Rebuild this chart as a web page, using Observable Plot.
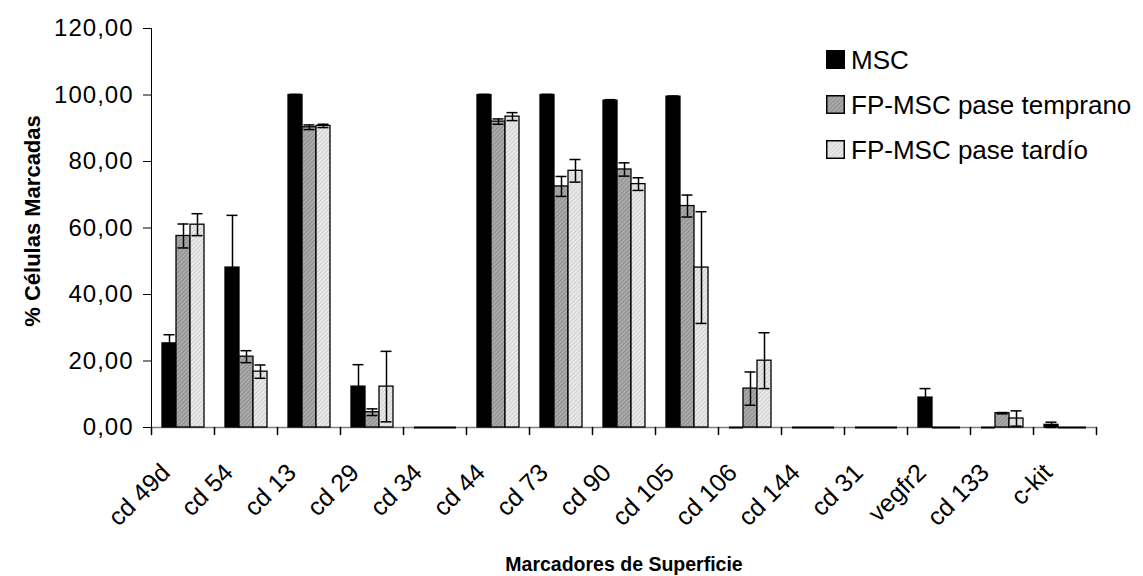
<!DOCTYPE html>
<html><head><meta charset="utf-8">
<script src="https://cdn.jsdelivr.net/npm/d3@7"></script>
<script src="https://cdn.jsdelivr.net/npm/@observablehq/plot@0.6"></script>
<style>
body{margin:0;background:#fff;font-family:Arial,"Liberation Sans",sans-serif;}
#wrap{position:relative;width:1143px;height:576px;}
.legend{position:absolute;left:826px;top:37px;font-size:26px;color:#000;line-height:1;}
.legend .row{display:flex;align-items:center;height:45px;white-space:nowrap;}
.legend svg{margin-right:6px;}
</style></head><body><div id="wrap"></div>
<script>
const categories = ["cd 49d","cd 54","cd 13","cd 29","cd 34","cd 44","cd 73","cd 90","cd 105","cd 106","cd 144","cd 31","vegfr2","cd 133","c-kit"];
const seriesNames = ["MSC","FP-MSC pase temprano","FP-MSC pase tardío"];
const mscValues   = [25.3, 48.1, 100.0, 12.3, 0, 100.0, 100.0, 98.3, 99.5, 0, 0, 0, 9.0, 0, 0.8];
const mscErrors   = [2.6, 15.7, 0.2, 6.6, 0, 0.2, 0.2, 0.3, 0.2, 0, 0, 0, 2.7, 0, 0.8];
const earlyValues = [57.6, 21.3, 90.3, 4.6, 0, 92.0, 72.5, 77.6, 66.6, 11.7, 0, 0, 0, 4.3, 0];
const earlyErrors = [3.6, 1.8, 0.7, 1.0, 0, 0.8, 3.0, 2.0, 3.3, 5.0, 0, 0, 0, 0.2, 0];
const lateValues  = [61.0, 16.8, 90.7, 12.3, 0, 93.5, 77.2, 73.2, 48.1, 20.1, 0, 0, 0, 2.7, 0];
const lateErrors  = [3.3, 2.0, 0.5, 10.6, 0, 1.2, 3.4, 1.9, 16.8, 8.4, 0, 0, 0, 2.3, 0];
const yTicks = [0, 20, 40, 60, 80, 100, 120];
const fills = ["#000", "url(#pg)", "url(#pl)"];

const vals = [mscValues, earlyValues, lateValues];
const errs = [mscErrors, earlyErrors, lateErrors];
const rows = [];
seriesNames.forEach((s, i) => categories.forEach((c, j) => rows.push({category: c, series: s, value: vals[i][j], err: errs[i][j]})));
const nonzero = rows.filter(d => d.value > 0);
const zero = rows.filter(d => d.value === 0);
const withErr = rows.filter(d => d.err > 0);

const tickShape = {draw(context, l) { context.moveTo(0, 0); context.lineTo(0, l); }};
const fmt = d => d.toFixed(2).replace(".", ",");

const chart = Plot.plot({
  width: 1143, height: 576,
  marginLeft: 147, marginRight: 43, marginTop: 28, marginBottom: 149,
  style: {fontFamily: "Arial, 'Liberation Sans', sans-serif", background: "#fff", color: "#000"},
  fx: {domain: categories, padding: 0, label: null, axis: null},
  x: {domain: seriesNames, paddingInner: 0, paddingOuter: 0.75, axis: null},
  y: {domain: [0, 120], axis: null},
  color: {domain: seriesNames, range: fills},
  marks: [
    Plot.ruleY([0], {stroke: "#808080", strokeWidth: 1.5}),
    Plot.barY(nonzero, {fx: "category", x: "series", y: "value", fill: "series", stroke: "#000", strokeWidth: 1.3}),
    Plot.tickY(zero, {fx: "category", x: "series", y: "value", stroke: "#000", strokeWidth: 2}),
    Plot.ruleX(withErr, {fx: "category", x: "series", y1: d => d.value - d.err, y2: d => d.value + d.err, stroke: "#000", strokeWidth: 1.5}),
    Plot.tickY(withErr, {fx: "category", x: "series", y: d => d.value + d.err, insetLeft: 1.5, insetRight: 1.5, stroke: "#000", strokeWidth: 1.5}),
    Plot.tickY(withErr, {fx: "category", x: "series", y: d => d.value - d.err, insetLeft: 1.5, insetRight: 1.5, stroke: "#000", strokeWidth: 1.5}),
    Plot.frame({anchor: "left", facetAnchor: "left", stroke: "#000"}),
    Plot.axisY({ticks: yTicks, tickFormat: fmt, tickSize: 8, tickPadding: 10, fontSize: 24, label: null}),
    Plot.vector([0], {frameAnchor: "bottom-left", length: 7, shape: tickShape, anchor: "start", stroke: "#000"}),
    Plot.vector([categories[categories.length - 1]], {fx: d => d, frameAnchor: "bottom-right", length: 7, shape: tickShape, anchor: "start", stroke: "#000"}),
    Plot.axisFx({anchor: "bottom", tickSize: 0, tickRotate: -45, fontSize: 25, tickPadding: 12, dx: -17, dy: 29, label: null}),
    Plot.text([categories[7]], {fx: d => d, frameAnchor: "bottom", dy: 143, text: () => "Marcadores de Superficie", fontWeight: "bold", fontSize: 19.5}),
    Plot.text([categories[0]], {fx: d => d, frameAnchor: "left", textAnchor: "middle", dx: -119, dy: -7, rotate: -90, text: () => "% Células Marcadas", fontWeight: "bold", fontSize: 22})
  ]
});

const yLabels = new Set(yTicks.map(fmt));
d3.select(chart).selectAll("text").filter(function() { return yLabels.has(this.textContent); }).attr("letter-spacing", "1px");

const patterns = `
<pattern id="pg" width="3" height="3" patternUnits="userSpaceOnUse" patternTransform="rotate(45)"><rect width="3" height="3" fill="#a9a9a9"/><rect width="1" height="3" fill="#8f8f8f"/></pattern>
<pattern id="pl" width="3" height="3" patternUnits="userSpaceOnUse" patternTransform="rotate(45)"><rect width="3" height="3" fill="#e8e8e8"/><rect width="1" height="3" fill="#d2d2d2"/></pattern>`;
d3.select(chart).insert("defs", ":first-child").html(patterns);

const wrap = document.getElementById("wrap");
wrap.appendChild(chart);

const legend = document.createElement("div");
legend.className = "legend";
seriesNames.forEach((s, i) => {
  const row = document.createElement("div");
  row.className = "row";
  row.innerHTML = `<svg width="19" height="19"><rect x="0.75" y="0.75" width="17.5" height="17.5" fill="${fills[i]}" stroke="#000" stroke-width="1.5"/></svg><span>${s}</span>`;
  legend.appendChild(row);
});
wrap.appendChild(legend);
</script></body></html>
